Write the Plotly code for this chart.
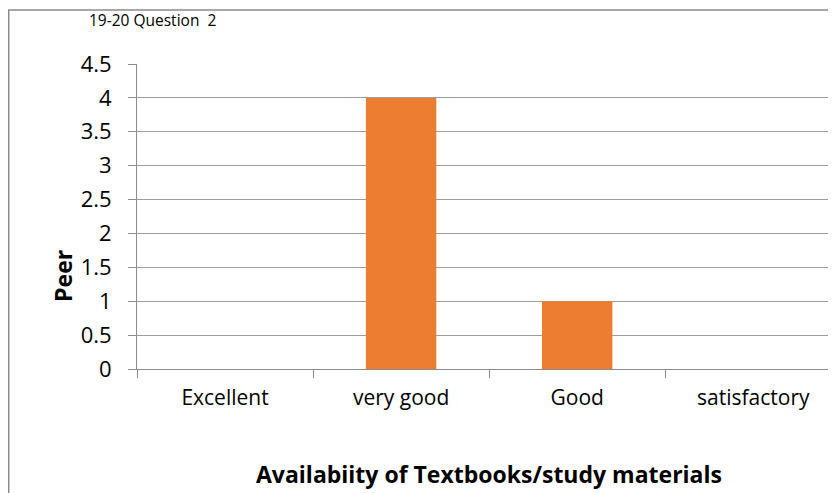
import plotly.graph_objects as go

# data
categories = ["Excellent", "very good", "Good", "satisfactory"]
peer_counts = [0, 4, 1, 0]
y_ticks = [0, 0.5, 1, 1.5, 2, 2.5, 3, 3.5, 4, 4.5]

title_text = "19-20 Question\u00a0 2"
x_title = "Availabiity of Textbooks/study materials"
y_title = "Peer"

font_family = "Open Sans, Liberation Sans, sans-serif"
grid_col = "#9e9e9e"
axis_col = "#8c8c8c"

# page body has an 8px margin, so the figure is a bit smaller than the window
fig = go.Figure(go.Bar(
    x=categories,
    y=peer_counts,
    marker=dict(color="#ED7D31", line=dict(width=0)),
    width=0.4,
))

fig.update_layout(
    width=828,
    height=485,
    margin=dict(l=129, r=0, t=56, b=124),
    paper_bgcolor="white",
    plot_bgcolor="white",
    showlegend=False,
    font=dict(family=font_family, color="#000000"),
)

fig.update_xaxes(
    range=[-0.5, 3.47],
    showgrid=False,
    showline=True,
    linecolor=axis_col,
    linewidth=1,
    ticks="outside",
    tickson="boundaries",
    ticklen=8,
    tickcolor=axis_col,
    tickfont=dict(size=21),
    ticklabelstandoff=10,
    fixedrange=True,
)

fig.update_yaxes(
    range=[0, 4.5],
    tickvals=y_ticks,
    ticktext=[f"{v:g}" for v in y_ticks],
    showgrid=True,
    gridcolor=grid_col,
    gridwidth=1,
    showline=True,
    linecolor=axis_col,
    ticks="outside",
    ticklen=8,
    tickcolor=axis_col,
    tickfont=dict(size=22),
    ticklabelstandoff=12,
    zeroline=False,
    fixedrange=True,
)

# chart-area border (cropped on the right and bottom, as in the reference)
fig.add_shape(
    type="rect", xref="paper", yref="paper",
    x0=-0.1835, x1=1.2, y0=-0.6, y1=1.177,
    line=dict(color="#8c8c8c", width=1.5),
    fillcolor="rgba(0,0,0,0)",
    layer="above",
)

fig.add_annotation(
    text=title_text, xref="paper", yref="paper",
    x=0.0215, y=1.144, showarrow=False,
    xanchor="center", yanchor="middle",
    font=dict(size=15.5),
)
fig.add_annotation(
    text=f"<b>{x_title}</b>", xref="paper", yref="paper",
    x=0.504, y=-0.343, showarrow=False,
    xanchor="center", yanchor="middle",
    font=dict(size=23),
)
fig.add_annotation(
    text=f"<b>{y_title}</b>", xref="paper", yref="paper",
    x=-0.106, y=0.305, showarrow=False, textangle=-90,
    xanchor="center", yanchor="middle",
    font=dict(size=23),
)

fig.write_html("out.html")
